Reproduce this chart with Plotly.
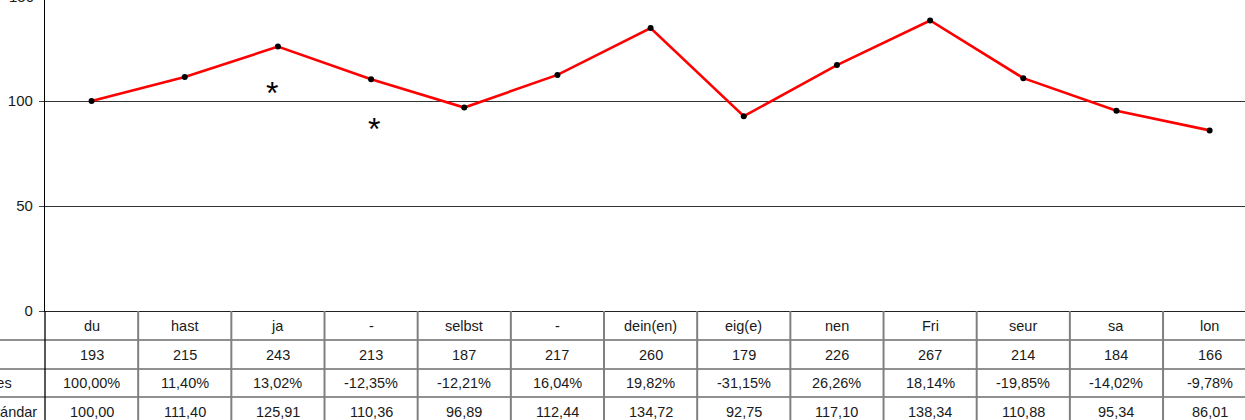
import plotly.graph_objects as go

# Word categories and their table rows
categories = ["du", "hast", "ja", "-", "selbst", "-", "dein(en)", "eig(e)",
              "nen", "Fri", "seur", "sa", "lon"]
counts = [193, 215, 243, 213, 187, 217, 260, 179, 226, 267, 214, 184, 166]
changes_pct = [100.00, 11.40, 13.02, -12.35, -12.21, 16.04, 19.82, -31.15,
               26.26, 18.14, -19.85, -14.02, -9.78]
standard = [100.00, 111.40, 125.91, 110.36, 96.89, 112.44, 134.72, 92.75,
            117.10, 138.34, 110.88, 95.34, 86.01]
y_ticks = [0, 50, 100, 150]

# significance markers: (category index, value level)
stars = [(2, 105.2), (3, 88.1)]

row_labels = ["", "", "Variaciones", "Índice estándar"]

# ---- layout geometry (pixels) ----
W, H = 1245, 420
ML = 45                 # left edge of the plot area
PLOT_H = 311            # height of the plot area (top of page to the 0 line)
COL_PX = 93.17          # width of one category column
UNIT_PX = 2.1           # pixels per value unit
ROW_EDGES = [311, 340, 369, 397, 426]
LABEL_RIGHT = [0, 0, 14, 39]   # right end of each row label

plot_w = W - ML
x_range = [-0.5, -0.5 + plot_w / COL_PX]
y_range = [0, PLOT_H / UNIT_PX]

FONT = "Liberation Sans, Arial, sans-serif"
TXT = "#1a1a1a"


def py(pix):
    """page pixel row -> paper y"""
    return (PLOT_H - pix) / PLOT_H


def px(pix):
    """page pixel column -> paper x"""
    return (pix - ML) / plot_w


def fmt(v, pct=False):
    s = f"{v:.2f}".replace(".", ",")
    return s + "%" if pct else s


n = len(categories)
xs = list(range(n))

fig = go.Figure()
fig.add_trace(go.Scatter(
    x=xs, y=standard, mode="lines+markers",
    line=dict(color="#ff0000", width=2.6),
    marker=dict(color="#000000", size=6),
    hoverinfo="skip", showlegend=False,
))

shapes = []
# horizontal table rules
for edge in ROW_EDGES[1:-1]:
    shapes.append(dict(type="line", xref="paper", yref="paper",
                       x0=px(0), x1=1, y0=py(edge), y1=py(edge),
                       line=dict(color="#222222", width=1)))
# vertical column separators
for k in range(n):
    shapes.append(dict(type="line", xref="x", yref="paper",
                       x0=k + 0.5, x1=k + 0.5,
                       y0=py(ROW_EDGES[0]), y1=py(ROW_EDGES[-1]),
                       line=dict(color="#808080", width=2)))
# left border of the table continuing the value axis
shapes.append(dict(type="line", xref="paper", yref="paper",
                   x0=0, x1=0, y0=0, y1=py(ROW_EDGES[-1]),
                   line=dict(color="#000000", width=1.3)))

annotations = []
rows = [categories,
        [str(c) for c in counts],
        [fmt(v, pct=True) for v in changes_pct],
        [fmt(v) for v in standard]]
for r, vals in enumerate(rows):
    yc = py((ROW_EDGES[r] + ROW_EDGES[r + 1]) / 2)
    for k, txt in enumerate(vals):
        annotations.append(dict(x=k, y=yc, xref="x", yref="paper", text=txt,
                                showarrow=False, xanchor="center",
                                yanchor="middle",
                                font=dict(family=FONT, size=14.5, color=TXT)))
    if row_labels[r]:
        annotations.append(dict(x=px(LABEL_RIGHT[r]), y=yc, xref="paper",
                                yref="paper", text=row_labels[r],
                                showarrow=False, xanchor="right",
                                yanchor="middle",
                                font=dict(family=FONT, size=14.5, color=TXT)))

for k, lvl in stars:
    annotations.append(dict(x=k, y=lvl, xref="x", yref="y", text="*",
                            showarrow=False, xanchor="center",
                            yanchor="middle",
                            xshift=-6 if k == 2 else 2.5, yshift=-3,
                            font=dict(family=FONT, size=32, color="#000000")))

# top tick label sits above the visible plot area
top_tick = y_ticks[-1]
annotations.append(dict(x=0, y=top_tick / y_range[1], xref="paper",
                        yref="paper", text=str(top_tick), showarrow=False,
                        xanchor="right", yanchor="middle", xshift=-9,
                        font=dict(family=FONT, size=15, color=TXT)))

fig.update_layout(
    width=W, height=H,
    margin=dict(l=ML, r=0, t=0, b=H - PLOT_H, pad=0),
    paper_bgcolor="white", plot_bgcolor="white",
    xaxis=dict(range=x_range, showticklabels=False, ticks="",
               showgrid=False, zeroline=False, showline=True,
               linecolor="#222222", linewidth=1, fixedrange=True),
    yaxis=dict(range=y_range, tickvals=y_ticks[:-1], ticks="outside",
               ticklen=5, tickcolor="#444444", tickwidth=1,
               ticklabelstandoff=3,
               showgrid=True, gridcolor="#333333", gridwidth=1,
               zeroline=False, showline=True, linecolor="#000000",
               linewidth=1.3,
               tickfont=dict(family=FONT, size=15, color=TXT),
               fixedrange=True),
    shapes=shapes, annotations=annotations,
)

fig.write_html("out.html")
